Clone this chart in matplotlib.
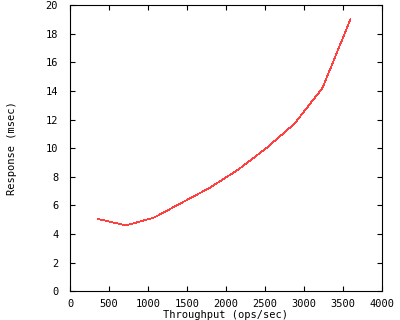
import matplotlib
matplotlib.use('Agg')
import matplotlib.pyplot as plt

throughput = [360, 720, 1080, 1440, 1800, 2160, 2520, 2880, 3240, 3600]
response = [5.05, 4.6, 5.15, 6.2, 7.25, 8.5, 10.0, 11.7, 14.2, 19.0]

plt.rcParams['font.family'] = 'DejaVu Sans Mono'
plt.rcParams['font.size'] = 7.5

fig = plt.figure(figsize=(4, 3.2), dpi=100)
ax = fig.add_axes([0.175, 0.09, 0.779, 0.894])
ax.plot(throughput, response, color='#ff4040', lw=0.55, antialiased=False)

ax.set_xlim(0, 4000)
ax.set_ylim(0, 20)
ax.set_xticks(range(0, 4001, 500))
ax.set_yticks(range(0, 21, 2))
ax.tick_params(direction='in', length=3.6, width=0.8, top=True, right=True)
ax.tick_params(axis='y', pad=8.5)
ax.tick_params(axis='x', pad=5.5)
for s in ax.spines.values():
    s.set_linewidth(0.8)

ax.set_xlabel('Throughput (ops/sec)', labelpad=1)
ax.set_ylabel('Response (msec)')
ax.yaxis.set_label_coords(-0.17, 0.5)

fig.savefig('out.png', dpi=100)
